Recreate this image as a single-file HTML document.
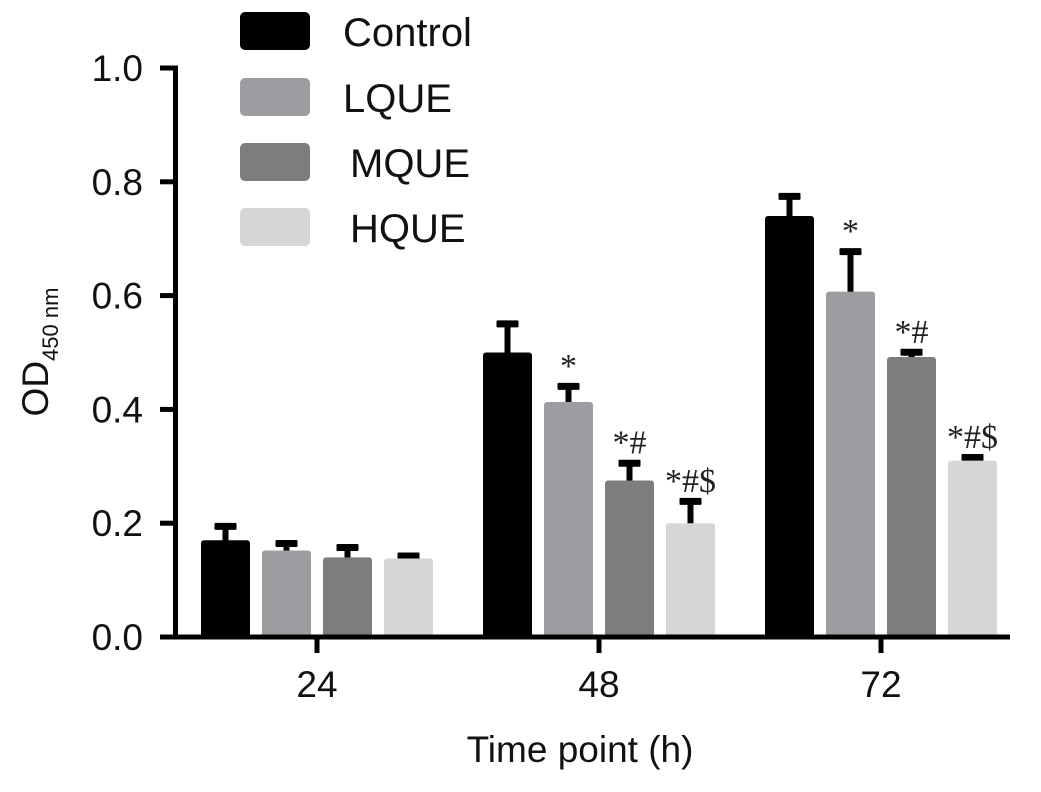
<!DOCTYPE html>
<html><head><meta charset="utf-8"><style>
html,body{margin:0;padding:0;background:#fff}
svg text{font-family:"Liberation Sans",Arial,sans-serif}
svg text.sig{font-family:"Liberation Serif","Times New Roman",serif}
</style></head><body>
<svg id="chart" width="1041" height="787" xmlns="http://www.w3.org/2000/svg"></svg>
<script>
const categories = ["24","48","72"];
const seriesNames = ["Control","LQUE","MQUE","HQUE"];
const seriesColors = ["#000000","#9d9da1","#7d7d7d","#d6d6d6"];
const controlValues = [0.17,0.50,0.74];
const lqueValues = [0.152,0.413,0.607];
const mqueValues = [0.14,0.275,0.492];
const hqueValues = [0.138,0.20,0.31];
const controlErr = [0.027,0.053,0.037];
const lqueErr = [0.015,0.030,0.073];
const mqueErr = [0.020,0.033,0.011];
const hqueErr = [0.007,0.041,0.008];
const annotations = [["","","",""],["","*","*#","*#$"],["","*","*#","*#$"]];
const yTicks = [0.0,0.2,0.4,0.6,0.8,1.0];
const yTickLabels = ["0.0","0.2","0.4","0.6","0.8","1.0"];

const values=[controlValues,lqueValues,mqueValues,hqueValues];
const errs=[controlErr,lqueErr,mqueErr,hqueErr];
const svg=document.getElementById('chart');
const NS="http://www.w3.org/2000/svg";
const y0=637, yScale=569;
const yPos=v=>y0-v*yScale;
const groupCenter=i=>317+i*282;
const barX=(i,s)=>groupCenter(i)-116+s*61;
const barW=49;
function mk(tag,attrs,parent){const e=document.createElementNS(NS,tag);for(const k in attrs)e.setAttribute(k,attrs[k]);(parent||svg).appendChild(e);return e;}

values.forEach((arr,s)=>{
  arr.forEach((v,i)=>{
    const x=barX(i,s), cx=x+barW/2, top=yPos(v), et=yPos(v+errs[s][i]);
    const st=mk('rect',{x:cx-3,y:et,width:6,height:top-et+2,fill:'#000'});
    
    
    const cap=mk('rect',{x:cx-11,y:et-2,width:22,height:7,fill:'#000',rx:1});
    
    
    const b=mk('rect',{x:x,y:top,width:barW,height:y0-top,fill:seriesColors[s],rx:3});
    
    
    const a=annotations[i][s];
    if(a){const t=mk('text',{class:'sig',x:cx,y:et-8,'text-anchor':'middle','font-size':34,fill:'#222'});t.textContent=a;
      
      }
  });
});
const ya=mk('rect',{x:173,y:yPos(1)-2.5,width:5,height:y0-yPos(1)+5,fill:'#000'});

const xa=mk('rect',{x:160,y:y0-2.5,width:850,height:5,fill:'#000'});

yTicks.forEach((v,k)=>{
  mk('rect',{x:160,y:yPos(v)-2.5,width:16,height:5,fill:'#000'});
  const t=mk('text',{x:143,y:yPos(v)+13,'text-anchor':'end','font-size':37,fill:'#111'});t.textContent=yTickLabels[k];
  
  
});
categories.forEach((c,i)=>{
  mk('rect',{x:groupCenter(i)-2.5,y:y0,width:5,height:16,fill:'#000'});
  const t=mk('text',{x:groupCenter(i),y:697,'text-anchor':'middle','font-size':37,fill:'#111'});t.textContent=c;
  
  
});
const xt=mk('text',{x:580,y:762,'text-anchor':'middle','font-size':37,fill:'#111'});xt.textContent='Time point (h)';

const yt=mk('text',{transform:'translate(48,352) rotate(-90)','text-anchor':'middle','font-size':37,fill:'#111'});
yt.innerHTML='OD<tspan font-size="22" dy="10">450 nm</tspan>';

const legY=[12,78,143,208], legX=[343,343,350,350];
seriesNames.forEach((n,s)=>{
  const g=mk('g',{});
  
  
  mk('rect',{x:240,y:legY[s],width:70,height:38,rx:5,fill:seriesColors[s]},g);
  const t=mk('text',{x:legX[s],y:legY[s]+34,'font-size':40,fill:'#111'},g);t.textContent=n;
});
</script>
</body></html>
